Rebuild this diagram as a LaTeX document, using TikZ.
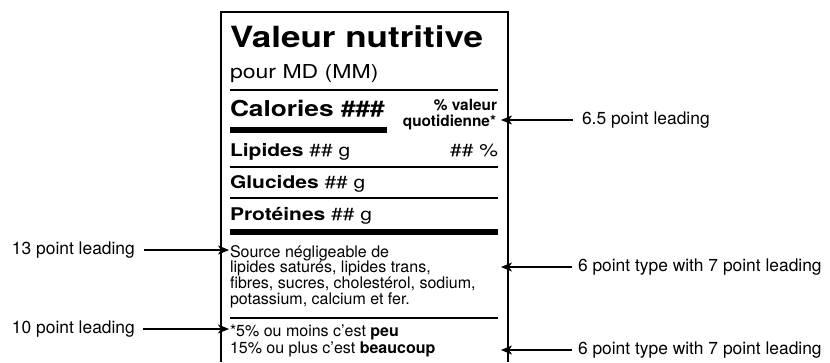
\documentclass[tikz,border=0pt]{standalone}
\usepackage{fontspec}
\setmainfont{TeX Gyre Heros}
\newfontfamily\widefont[FakeStretch=1.2]{TeX Gyre Heros}
\usetikzlibrary{arrows.meta}
\tikzset{
  txt/.style={inner sep=0pt, outer sep=0pt, anchor=base west},
  txtr/.style={inner sep=0pt, outer sep=0pt, anchor=base east},
  body/.style={txt, font=\fontsize{16}{17}\selectfont},
  row/.style={font=\widefont\fontsize{17.5}{19}\selectfont},
  lbl/.style={inner sep=0pt, outer sep=0pt, font=\fontsize{17.4}{19}\selectfont},
  arr/.style={line width=1.1pt, -{Stealth[length=11pt,width=9pt,inset=3pt]}},
  rule/.style={line width=1.4pt},
  bar/.style={line width=6pt},
}
\begin{document}
\begin{tikzpicture}[x=1pt,y=-1pt]
\useasboundingbox (0,0) rectangle (830,362);
% box
\draw[line width=1.2pt] (221,362) -- (221,12) -- (508,12) -- (508,362);
% title
\node[txt, font=\widefont\fontsize{29.2}{30}\selectfont\bfseries] (title) at (230,47) {Valeur nutritive};
\node[txt, font=\widefont\fontsize{19.2}{21}\selectfont] (serv) at (230,78) {pour MD (MM)};
\draw[rule, line width=2pt] (230,89.5) coordinate (r1a) -- (498,89.5) coordinate (r1b);
\node[txt, font=\widefont\fontsize{21.9}{23}\selectfont\bfseries] (cal) at (230,116.5) {Calories \#\#\#};
\node[txtr, font=\fontsize{15.4}{16}\selectfont\bfseries] (dv1) at (497,110.5) {\% valeur};
\node[txtr, font=\fontsize{15.4}{16}\selectfont\bfseries] (dv2) at (496,126) {quotidienne*};
\draw[bar] (230,129.5) coordinate (b1a) -- (387,129.5) coordinate (b1b);
\node[txt, row] (lip) at (230,156) {\textbf{Lipides} \#\# g};
\node[txtr, row] (lipp) at (498,156) {\#\# \%};
\draw[rule] (230,167) coordinate (r2a) -- (498,167) coordinate (r2b);
\node[txt, row] (glu) at (230,188) {\textbf{Glucides} \#\# g};
\draw[rule] (230,198) coordinate (r3a) -- (498,198) coordinate (r3b);
\node[txt, row] (pro) at (230,220) {\textbf{Protéines} \#\# g};
\draw[bar, line width=6.5pt] (230,232) coordinate (b2a) -- (498,232) coordinate (b2b);
% footnote text
\node[body] (s1) at (230,257) {Source négligeable de};
\node[body] (s2) at (230,272.5) {lipides saturés, lipides trans,};
\node[body] (s3) at (230,288.5) {fibres, sucres, cholestérol, sodium,};
\node[body] (s4) at (230,304) {potassium, calcium et fer.};
\draw[rule] (230,318) coordinate (r4a) -- (498,318) coordinate (r4b);
\node[body] (f1) at (230,336) {*5\% ou moins c’est \textbf{peu}};
\node[body] (f2) at (230,353) {15\% ou plus c’est \textbf{beaucoup}};
% annotation labels
\node[lbl, anchor=west] (l13) at (12,250) {13 point leading};
\node[lbl, anchor=west] (l10) at (12,329) {10 point leading};
\node[lbl, anchor=west] (l65) at (582,120) {6.5 point leading};
\node[lbl, anchor=west] (l6a) at (578,267) {6 point type with 7 point leading};
\node[lbl, anchor=west] (l6b) at (578,350) {6 point type with 7 point leading};
\coordinate (t13) at (229,250);
\coordinate (t10) at (229,329);
\coordinate (t65) at (501,120);
\coordinate (t6a) at (501,267);
\coordinate (t6b) at (501,350);
\draw[arr] ([xshift=9pt]l13.east) -- (t13);
\draw[arr] ([xshift=8pt]l10.east) -- (t10);
\draw[arr] ([xshift=-9pt]l65.west) -- (t65);
\draw[arr] ([xshift=-6pt]l6a.west) -- (t6a);
\draw[arr] ([xshift=-6pt]l6b.west) -- (t6b);
\end{tikzpicture}
\end{document}
